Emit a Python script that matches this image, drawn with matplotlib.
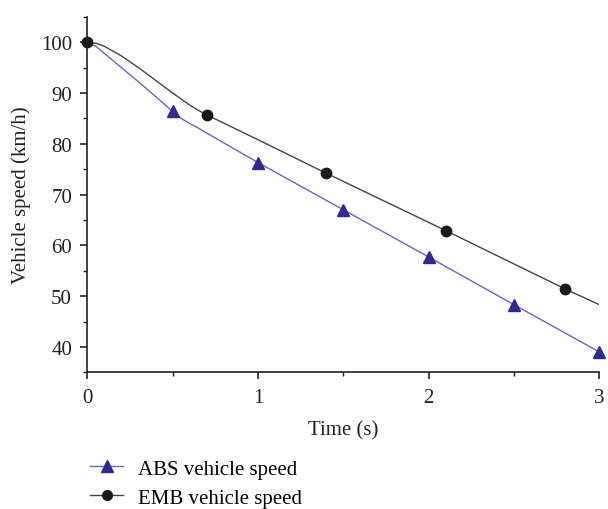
import numpy as np
import matplotlib
matplotlib.use('Agg')
import matplotlib.pyplot as plt

# curva ABS (tiempo s, velocidad km/h)
t_abs = [0, 0.05, 0.1, 0.2, 0.3, 0.4, 0.5, 0.55, 0.6, 0.65, 0.7, 1.0, 1.5, 2.0, 2.5, 3.0]
v_abs = [100, 99.2, 97.8, 95.0, 92.2, 89.3, 86.4, 85.0, 84.0, 83.1, 82.1, 76.3, 67.0, 57.7, 48.3, 39.0]
# marcadores ABS
tm_abs = [0.5, 1.0, 1.5, 2.0, 2.5, 3.0]
vm_abs = [86.4, 76.3, 67.0, 57.7, 48.3, 39.0]

# curva EMB
t_emb = [0, 0.05, 0.1, 0.2, 0.3, 0.4, 0.5, 0.55, 0.6, 0.65, 0.7, 1.0, 1.4, 2.1, 2.8, 3.0]
v_emb = [100, 99.8, 99.2, 97.3, 95.0, 92.5, 90.0, 88.8, 87.6, 86.6, 85.7, 80.8, 74.2, 62.9, 51.4, 48.3]
tm_emb = [0, 0.7, 1.4, 2.1, 2.8]
vm_emb = [100, 85.7, 74.2, 62.9, 51.4]

plt.rcParams['font.family'] = ['Liberation Serif', 'DejaVu Serif']
FS = 15

fig = plt.figure(figsize=(6.08, 5.10), dpi=100)
ax = fig.add_axes([0.1436, 0.268, 0.8424, 0.697])

C_ABS_L, C_ABS_M = '#6b63c4', '#2e2a8e'
C_EMB_L, C_EMB_M = '#444444', '#1a1a1a'

ax.plot(t_abs, v_abs, color=C_ABS_L, lw=1.0)
ax.plot(tm_abs, vm_abs, ls='none', marker='^', ms=9, color=C_ABS_M, clip_on=False)
ax.plot(t_emb, v_emb, color=C_EMB_L, lw=1.0)
ax.plot(tm_emb, vm_emb, ls='none', marker='o', ms=7.5, color=C_EMB_M, clip_on=False)

ax.set_xlim(0, 3)
ax.set_ylim(35, 105)
ax.set_xticks([0, 1, 2, 3])
ax.set_xticks([0.5, 1.5, 2.5], minor=True)
ax.set_yticks([40, 50, 60, 70, 80, 90, 100])
ax.set_yticks([35, 45, 55, 65, 75, 85, 95, 105], minor=True)
for s in ['top', 'right']:
    ax.spines[s].set_visible(False)
for s in ['left', 'bottom']:
    ax.spines[s].set_linewidth(1.2)
    ax.spines[s].set_color('#222222')
ax.tick_params(which='major', length=5, width=1.2, labelsize=FS, colors='#222222', pad=6)
ax.tick_params(which='minor', length=3, width=1.0, colors='#222222')
ax.set_xlabel('Time (s)', fontsize=FS, color='#222222', labelpad=10)
ax.set_ylabel('Vehicle speed (km/h)', fontsize=FS, color='#222222', labelpad=7)

h1 = plt.Line2D([], [], color=C_ABS_L, lw=1.0, marker='^', ms=8,
                mfc=C_ABS_M, mec=C_ABS_M)
h2 = plt.Line2D([], [], color=C_EMB_L, lw=1.0, marker='o', ms=7,
                mfc=C_EMB_M, mec=C_EMB_M)
fig.legend([h1, h2], ['ABS vehicle speed', 'EMB vehicle speed'],
           loc='upper left', bbox_to_anchor=(0.148, 0.098), frameon=False,
           fontsize=FS, handlelength=1.6, handletextpad=0.7,
           labelspacing=0.45, borderaxespad=0, borderpad=0)

fig.savefig('out.png', dpi=100)
